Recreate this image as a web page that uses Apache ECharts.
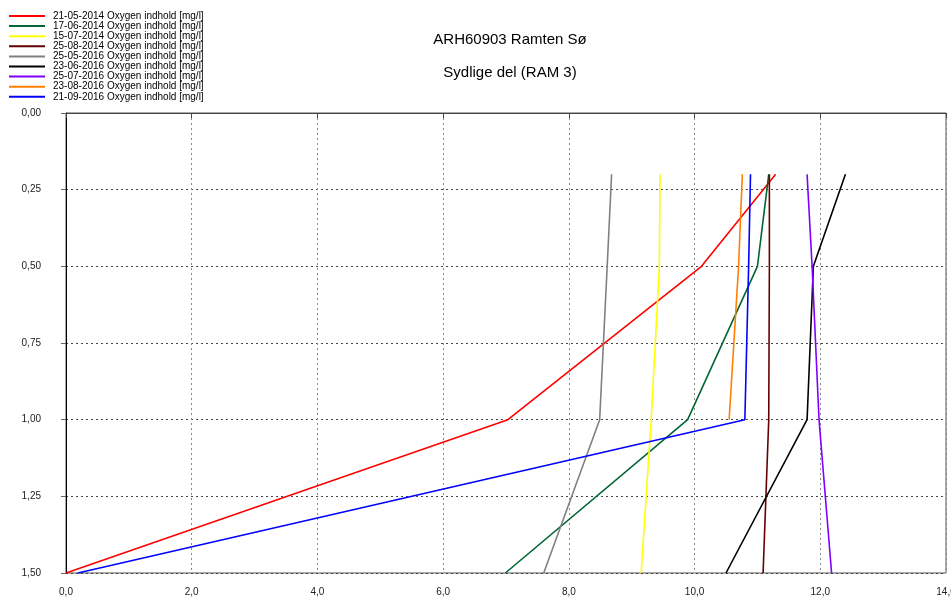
<!DOCTYPE html>
<html>
<head>
<meta charset="utf-8">
<script src="https://cdn.jsdelivr.net/npm/echarts@6/dist/echarts.min.js"></script>
<style>html,body{margin:0;padding:0;background:#fff;}#c{width:951px;height:599px;}</style>
</head>
<body>
<div id="c"></div>
<script>
const depths = [0.2, 0.5, 1.0, 1.5];
const seriesNames = [
  '21-05-2014 Oxygen indhold [mg/l]',
  '17-06-2014 Oxygen indhold [mg/l]',
  '15-07-2014 Oxygen indhold [mg/l]',
  '25-08-2014 Oxygen indhold [mg/l]',
  '25-05-2016 Oxygen indhold [mg/l]',
  '23-06-2016 Oxygen indhold [mg/l]',
  '25-07-2016 Oxygen indhold [mg/l]',
  '23-08-2016 Oxygen indhold [mg/l]',
  '21-09-2016 Oxygen indhold [mg/l]'
];
const s20140521 = [11.29, 10.11, 7.03, 0.0];
const s20140617 = [11.18, 11.0, 9.89, 6.99];
const s20140715 = [9.45, 9.44, 9.31, 9.15];
const s20140825 = [11.19, 11.19, 11.18, 11.09];
const s20160525 = [8.68, 8.61, 8.49, 7.60];
const s20160623 = [12.40, 11.89, 11.79, 10.50];
const s20160725 = [11.79, 11.87, 11.98, 12.18];
const s20160823 = [10.76, 10.70, 10.55];
const s20160921 = [10.89, 10.86, 10.80, 0.19];
const seriesValues = [s20140521, s20140617, s20140715, s20140825, s20160525, s20160623, s20160725, s20160823, s20160921];
const colors = ['#ff0000', '#006633', '#ffff00', '#660000', '#808080', '#000000', '#7f00ff', '#ff8000', '#0000ff'];
const xTicks = [0, 2, 4, 6, 8, 10, 12, 14];
const yTicks = [0, 0.25, 0.5, 0.75, 1.0, 1.25, 1.5];

const lineIcon = 'path://M0,0 M0,4 L36,4 L36,6 L0,6 Z M36,10';

const chart = echarts.init(document.getElementById('c'));
chart.setOption({
  animation: false,
  backgroundColor: '#fff',
  title: [
    {text: 'ARH60903 Ramten Sø', left: 505, top: 27, textAlign: 'center',
     textStyle: {fontFamily: 'Liberation Sans, Arial', fontSize: 15, fontWeight: 'normal', color: '#000'}},
    {text: 'Sydlige del (RAM 3)', left: 505, top: 60, textAlign: 'center',
     textStyle: {fontFamily: 'Liberation Sans, Arial', fontSize: 15, fontWeight: 'normal', color: '#000'}}
  ],
  legend: {
    orient: 'vertical', left: 9, top: 11, itemWidth: 36, itemHeight: 10, itemGap: 0.1,
    padding: 0,
    icon: lineIcon,
    data: seriesNames,
    textStyle: {fontFamily: 'Liberation Sans, Arial', fontSize: 10, color: '#000', lineHeight: 10, padding: [0, 0, 0, 3]}
  },
  grid: {left: 66, right: 5, top: 113, bottom: 26, show: true, borderColor: '#555', borderWidth: 1,
    containLabel: false, outerBoundsMode: 'none'},
  xAxis: {
    type: 'value', min: 0, max: 14, interval: 2,
    axisLine: {lineStyle: {color: '#444', width: 1}},
    axisTick: {show: true, length: 5, lineStyle: {color: '#444'}},
    axisLabel: {margin: 14, fontFamily: 'Liberation Sans, Arial', fontSize: 10, color: '#222',
      formatter: v => v.toFixed(1).replace('.', ',')},
    splitLine: {show: true, lineStyle: {color: '#888', type: [2, 3], width: 1}}
  },
  yAxis: {
    type: 'value', min: 0, max: 1.5, interval: 0.25, inverse: true,
    axisLine: {show: true, lineStyle: {color: '#000', width: 1}},
    axisTick: {show: true, length: 5, lineStyle: {color: '#666'}},
    axisLabel: {margin: 25, fontFamily: 'Liberation Sans, Arial', fontSize: 10, color: '#222',
      formatter: v => v.toFixed(2).replace('.', ',')},
    splitLine: {show: true, lineStyle: {color: '#444', type: [2, 3], width: 1}}
  },
  series: seriesNames.map((name, i) => ({
    name: name,
    type: 'line',
    symbol: 'none',
    color: colors[i],
    lineStyle: {color: colors[i], width: 1.6},
    data: seriesValues[i].map((v, j) => [v, depths[j]])
  }))
});
</script>
</body>
</html>
